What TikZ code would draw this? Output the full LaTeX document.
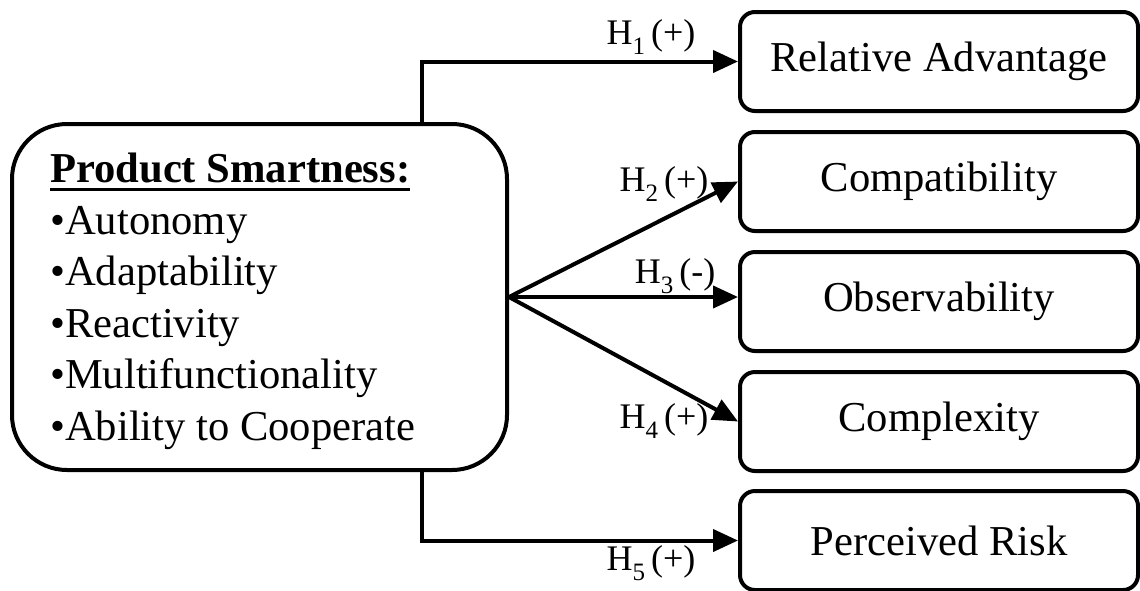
\documentclass[tikz,border=0pt]{standalone}
\usepackage{fontspec}
\setmainfont{Liberation Serif}
\usetikzlibrary{arrows.meta}
\newcommand\myul[1]{\leavevmode\setbox0\hbox{#1}\rlap{\rule[-8.5pt]{\wd0}{3pt}}\box0}
\newcommand\hsub[1]{H\raisebox{-9.5pt}{\fontsize{25}{25}\selectfont #1}}
\begin{document}
\begin{tikzpicture}[x=1pt,y=-1pt,
  box/.style={draw, line width=4pt, rounded corners=15pt, minimum width=398pt,
    minimum height=99pt, inner sep=0pt, font=\fontsize{42.6}{51}\selectfont},
  bigbox/.style={draw, line width=4pt, rounded corners=55pt, minimum width=495pt,
    minimum height=346pt, inner sep=0pt},
  conn/.style={line width=4pt, -{Triangle[length=25pt,width=22pt]}},
  lab/.style={inner sep=0pt, font=\fontsize{36}{40}\selectfont}]
\useasboundingbox (0,0) rectangle (1140,590);
% left box
\node[bigbox] (ps) at (259.5,297) {};
\node[anchor=west, inner sep=0pt, align=left, font=\fontsize{42.6}{51.5}\selectfont] (pst) at (50,301.5)
  {\myul{\textbf{Product Smartness:}}\\•Autonomy\\•Adaptability\\•Reactivity\\•Multifunctionality\\•Ability to Cooperate};
% right boxes
\node[box] (o1) at (939,61.5) {Relative Advantage};
\node[box] (o2) at (939,181.5) {Compatibility};
\node[box] (o3) at (939,301.5) {Observability};
\node[box] (o4) at (939,421.5) {Complexity};
\node[box] (o5) at (939,540.5) {Perceived Risk};
% connectors
\draw[conn] ([xshift=162.5pt]ps.north) |- (o1.west);
\draw[conn] (ps.east) -- (o2.west);
\draw[conn] (ps.east) -- (ps.east -| o3.west);
\draw[conn] (ps.east) -- (o4.west);
\draw[conn] ([xshift=162.5pt]ps.south) |- (o5.west);
% labels
\node[lab] (l1) at (651,37) {\hsub{1}\,(+)};
\node[lab] (l2) at (664,184) {\hsub{2}\,(+)};
\node[lab] (l3) at (675,276) {\hsub{3}\,(-)};
\node[lab] (l4) at (664,421) {\hsub{4}\,(+)};
\node[lab] (l5) at (651,563) {\hsub{5}\,(+)};
\end{tikzpicture}
\end{document}
